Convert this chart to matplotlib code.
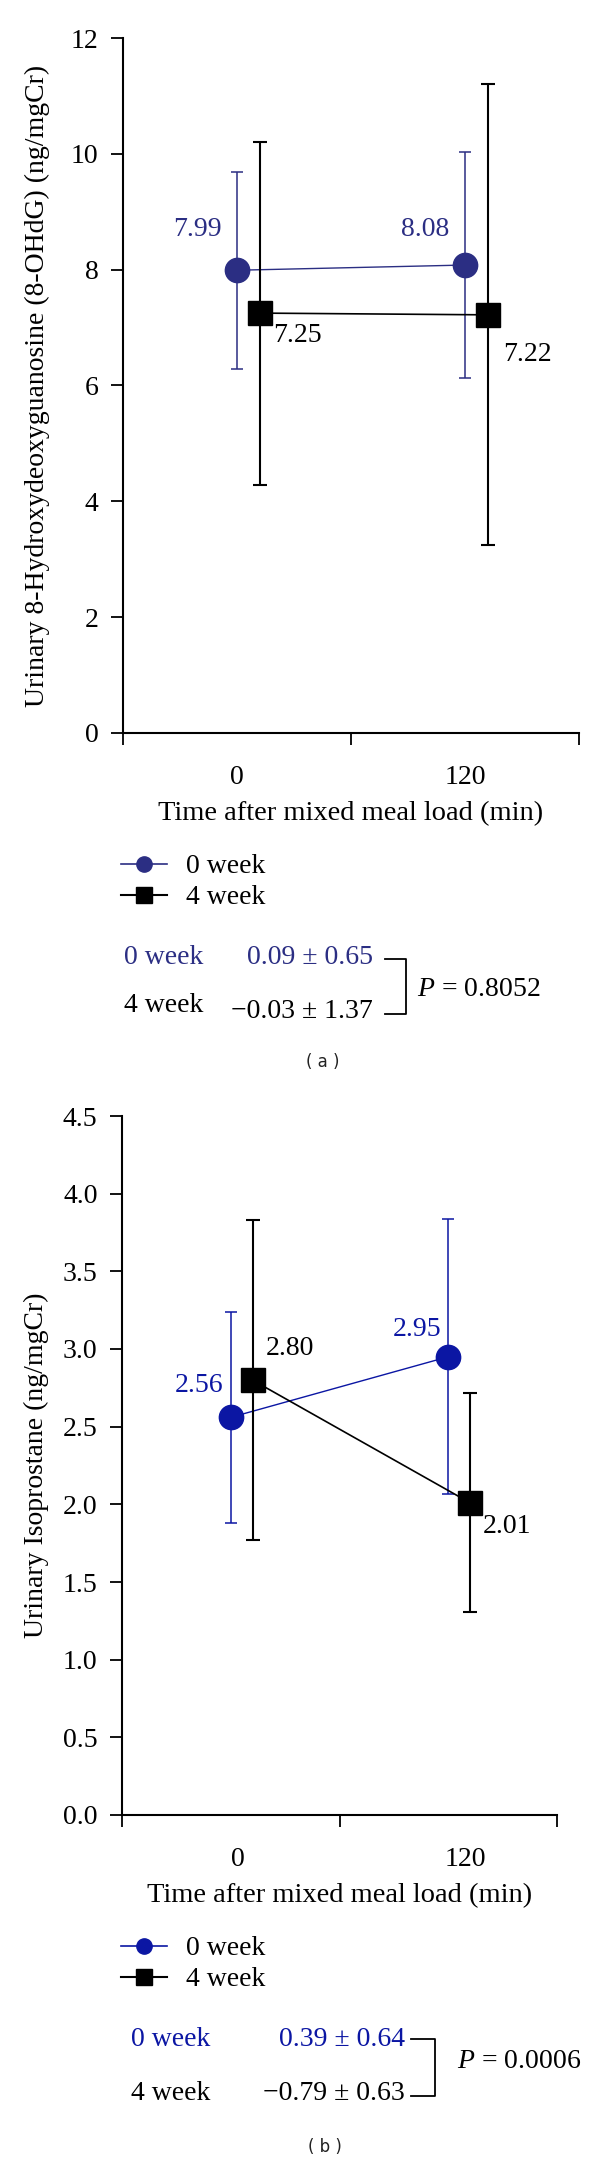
import matplotlib
matplotlib.use("Agg")
import matplotlib.pyplot as plt
from matplotlib.lines import Line2D

plt.rcParams['font.family'] = ['Liberation Serif', 'DejaVu Serif']
plt.rcParams['mathtext.fontset'] = 'custom'
plt.rcParams['mathtext.it'] = 'Liberation Serif:italic'
plt.rcParams['mathtext.rm'] = 'Liberation Serif'

times = ['0', '120']
groups = ['0 week', '4 week']

# (a) urinary 8-OHdG
a_w0 = [7.99, 8.08]
a_w0_err = [1.70, 1.95]
a_w4 = [7.25, 7.22]
a_w4_err = [2.96, 3.98]
a_stats = ['0.09 ± 0.65', '\u22120.03 ± 1.37']
a_p = '0.8052'

# (b) urinary isoprostane
b_w0 = [2.56, 2.95]
b_w0_err = [0.68, 0.885]
b_w4 = [2.80, 2.01]
b_w4_err = [1.03, 0.705]
b_stats = ['0.39 ± 0.64', '\u22120.79 ± 0.63']
b_p = '0.0006'

W, H = 600, 2163
FS = 20
fig = plt.figure(figsize=(W / 100, H / 100), dpi=100)


def fx(x):
    return x / W


def fy(y):
    return 1 - y / H


def panel(box, w0, w0e, w4, w4e, yticks, fmt, ylabel, ylab_x, blue, lblx,
          offs):
    l, t, r, b = box
    ax = fig.add_axes([fx(l), fy(b), fx(r) - fx(l), fy(t) - fy(b)])
    x0 = [0.5, 1.5]
    x4 = [0.6, 1.6]
    ax.errorbar(x0, w0, yerr=w0e, color=blue, lw=1.0, elinewidth=1.1,
                capsize=4.5, capthick=1.1, marker='o', ms=17.5, mec=blue,
                mfc=blue, zorder=2)
    ax.errorbar(x4, w4, yerr=w4e, color='black', lw=1.2, elinewidth=1.5,
                capsize=5, capthick=1.5, marker='s', ms=17.5, mec='black',
                mfc='black', zorder=3)
    for i in range(2):
        dx, dy, ha = offs[i]
        ax.annotate(f"{w0[i]:.2f}", (x0[i], w0[i]), xytext=(dx, dy),
                    textcoords='offset pixels', ha=ha, va='center',
                    color=blue, fontsize=FS)
        dx, dy, ha = offs[i + 2]
        ax.annotate(f"{w4[i]:.2f}", (x4[i], w4[i]), xytext=(dx, dy),
                    textcoords='offset pixels', ha=ha, va='center',
                    color='black', fontsize=FS)
    ax.set_xlim(0, 2)
    ax.set_ylim(yticks[0], yticks[-1])
    ax.set_yticks(yticks)
    ax.set_yticklabels([fmt.format(v) for v in yticks])
    ax.set_xticks([0, 1, 2])
    ax.set_xticklabels([])
    ax.set_xticks(lblx, minor=True)
    ax.set_xticklabels(times, minor=True)
    ax.tick_params(axis='x', which='major', direction='out', length=8.6,
                   width=1.3)
    ax.tick_params(axis='x', which='minor', length=0, pad=23, labelsize=FS)
    ax.tick_params(axis='y', direction='out', length=8.6, width=1.3, pad=9,
                   labelsize=FS)
    for s in ['top', 'right']:
        ax.spines[s].set_visible(False)
    for s in ['left', 'bottom']:
        ax.spines[s].set_linewidth(1.5)
    ax.set_xlabel("Time after mixed meal load (min)", fontsize=20.5,
                  labelpad=8)
    ax.set_ylabel(ylabel, fontsize=FS, va='center')
    ax.yaxis.set_label_coords(ylab_x, 0.5)
    return ax


def legend_and_stats(blue, leg_y, stat_rows, vals, vals_right, bracket,
                     p_xy, p, tag, tag_xy):
    h0 = Line2D([], [], color=blue, lw=1.2, marker='o', ms=11, mfc=blue,
                mec=blue)
    h4 = Line2D([], [], color='black', lw=1.5, marker='s', ms=12,
                mfc='black', mec='black')
    fig.legend([h0, h4], groups, loc='center left',
               bbox_to_anchor=(fx(121), fy(leg_y)), frameon=False,
               fontsize=FS, handlelength=1.65, handletextpad=0.7,
               labelspacing=0.2, borderpad=0, borderaxespad=0)
    cols = [blue, 'black']
    for i in range(2):
        lx, ly, vy = stat_rows[i]
        fig.text(fx(lx), fy(ly), groups[i], color=cols[i], fontsize=FS,
                 ha='left', va='center')
        fig.text(fx(vals_right), fy(vy), vals[i], color=cols[i],
                 fontsize=FS, ha='right', va='center')
    bx0, bx1, by0, by1 = bracket
    fig.add_artist(Line2D([fx(bx0), fx(bx1), fx(bx1), fx(bx0)],
                          [fy(by0), fy(by0), fy(by1), fy(by1)],
                          color='black', lw=1.3))
    fig.text(fx(p_xy[0]), fy(p_xy[1]), r"$P$ = " + p, fontsize=FS,
             ha='left', va='center')
    fig.text(fx(tag_xy[0]), fy(tag_xy[1]), tag, fontsize=12,
             family='DejaVu Sans', color='#222222', ha='center',
             va='center')


blue_a = '#2B2E83'
blue_b = '#0B16A3'

panel((123, 38, 579, 733), a_w0, a_w0_err, a_w4, a_w4_err,
      [0, 2, 4, 6, 8, 10, 12], "{:.0f}",
      "Urinary 8-Hydroxydeoxyguanosine (8-OHdG) (ng/mgCr)", -0.1875,
      blue_a, [0.5, 1.5],
      [(-15, 41, 'right'), (-16, 36, 'right'), (13, -22, 'left'),
       (15, -40, 'left')])
legend_and_stats(blue_a, 882, [(124, 958, 958), (124, 1005, 1011)],
                 a_stats, 373, (385, 406, 959, 1014), (417, 990), a_p,
                 "( a )", (323, 1062))

panel((122, 1116, 557, 1815), b_w0, b_w0_err, b_w4, b_w4_err,
      [0, 0.5, 1, 1.5, 2, 2.5, 3, 3.5, 4, 4.5], "{:.1f}",
      "Urinary Isoprostane (ng/mgCr)", -0.1966,
      blue_b, [0.533, 1.58],
      [(-7, 32, 'right'), (-7, 27, 'right'), (13, 32, 'left'),
       (13, -24, 'left')])
legend_and_stats(blue_b, 1964, [(131, 2039, 2039), (131, 2094, 2094)],
                 b_stats, 405, (411, 435, 2039, 2096), (457, 2062), b_p,
                 "( b )", (325, 2147))

fig.savefig("out.png", dpi=100)
